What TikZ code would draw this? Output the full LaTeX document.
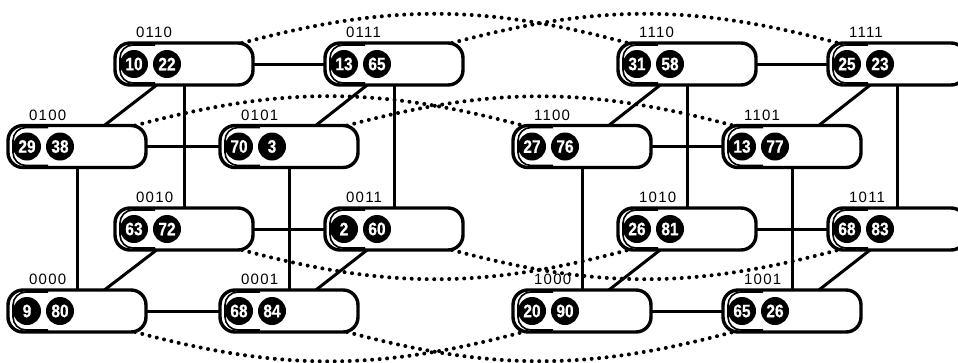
\documentclass[tikz,border=0pt]{standalone}
\usepackage{fontspec}
\setmainfont{Liberation Sans}
\newfontfamily\lblfont[LetterSpace=8]{Liberation Sans}
\newfontfamily\numfont[FakeStretch=0.86,FakeBold=0.6]{Liberation Sans}
\usetikzlibrary{calc}
\newcommand\mknode[6]{%
  \node[pill] (#1) at (#2,#3) {};
  \draw[innerline] ($(#1.north west)+(40,2)$) -- ($(#1.north west)+(5,2)$) -- ($(#1.south west)+(5,-2)$) -- ($(#1.south west)+(40,-2)$);
  \node[num] (#1a) at ($(#1.west)+(19,0)$) {#5};
  \node[num] (#1b) at ($(#1.west)+(52,0)$) {#6};
  \node[lbl] (#1l) at ($(#1.north west)+(21,-5.5)$) {#4};
}
\begin{document}
\begin{tikzpicture}[x=1pt,y=-1pt,
  pill/.style={draw, line width=3.4pt, fill=white, rounded corners=15pt, minimum width=138pt, minimum height=42pt, inner sep=0pt, outer sep=0pt},
  num/.style={circle, fill=black, minimum size=28pt, inner sep=0pt, text=white, font=\numfont\bfseries\fontsize{18}{18}\selectfont},
  lbl/.style={anchor=base west, inner sep=0pt, font=\lblfont\fontsize{15}{15}\selectfont},
  edge/.style={line width=3pt},
  link/.style={line width=4pt, line cap=round, dash pattern=on 0pt off 7.5pt},
  innerline/.style={line width=1.6pt, rounded corners=13pt}]
\useasboundingbox (0,0) rectangle (958,362);
% left cube
\mknode{n0110}{184}{64}{0110}{10}{22}
\mknode{n0111}{394}{64}{0111}{13}{65}
\mknode{n0100}{77}{146.5}{0100}{29}{38}
\mknode{n0101}{289}{146.5}{0101}{70}{3}
\mknode{n0010}{184}{229}{0010}{63}{72}
\mknode{n0011}{394}{229}{0011}{2}{60}
\mknode{n0000}{77}{311}{0000}{9}{80}
\mknode{n0001}{289}{311}{0001}{68}{84}
% right cube
\mknode{n1110}{687}{64}{1110}{31}{58}
\mknode{n1111}{897}{64}{1111}{25}{23}
\mknode{n1100}{582}{146.5}{1100}{27}{76}
\mknode{n1101}{792}{146.5}{1101}{13}{77}
\mknode{n1010}{687}{229}{1010}{26}{81}
\mknode{n1011}{897}{229}{1011}{68}{83}
\mknode{n1000}{582}{311}{1000}{20}{90}
\mknode{n1001}{792}{311}{1001}{65}{26}
% solid edges
\foreach \p in {0,1}{
  \draw[edge] (n\p110) -- (n\p111);
  \draw[edge] (n\p100) -- (n\p101);
  \draw[edge] (n\p010) -- (n\p011);
  \draw[edge] (n\p000) -- (n\p001);
  \draw[edge] (n\p110) -- (n\p100);
  \draw[edge] (n\p111) -- (n\p101);
  \draw[edge] (n\p010) -- (n\p000);
  \draw[edge] (n\p011) -- (n\p001);
  \draw[edge] (n\p100) -- (n\p000);
  \draw[edge] (n\p101) -- (n\p001);
  \draw[edge] (n\p110) -- (n\p010);
  \draw[edge] (n\p111) -- (n\p011);
}
% dotted links
\foreach \s in {110,111,100,101}{
  \draw[link] ($(n0\s.north east)+(-11,0)$) to[bend left=15] ($(n1\s.north west)+(10,0)$);
}
\foreach \s in {010,011,000,001}{
  \draw[link] ($(n0\s.south east)+(-11,0)$) to[bend right=15] ($(n1\s.south west)+(10,0)$);
}
\end{tikzpicture}
\end{document}
